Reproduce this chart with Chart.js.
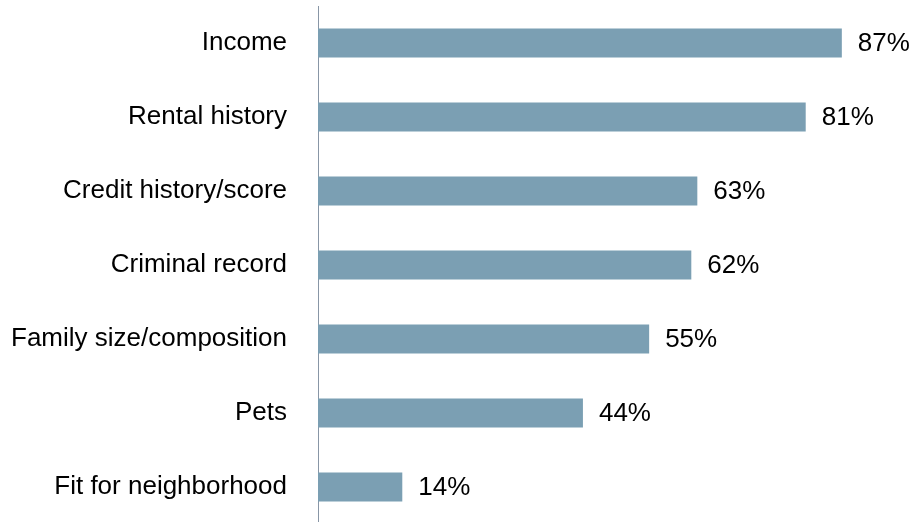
<!DOCTYPE html>
<html>
<head>
<meta charset="utf-8">
<script src="https://cdn.jsdelivr.net/npm/chart.js@4/dist/chart.umd.min.js"></script>
<style>
  html, body { margin: 0; padding: 0; background: #fff; overflow: hidden; }
  canvas { display: block; }
</style>
</head>
<body>
<canvas id="c" width="912" height="524"></canvas>
<script>
const categories = [
  'Income',
  'Rental history',
  'Credit history/score',
  'Criminal record',
  'Family size/composition',
  'Pets',
  'Fit for neighborhood'
];
const shares = [87, 81, 63, 62, 55, 44, 14];

const FONT = "'Liberation Sans', Arial, sans-serif";

// Writes each bar's percentage just past its end
const valueLabels = {
  id: 'valueLabels',
  afterDatasetsDraw(chart) {
    const ctx = chart.ctx;
    const meta = chart.getDatasetMeta(0);
    ctx.save();
    ctx.font = '26px ' + FONT;
    ctx.fillStyle = '#000';
    ctx.textAlign = 'left';
    ctx.textBaseline = 'middle';
    meta.data.forEach((bar, i) => {
      ctx.fillText(shares[i] + '%', bar.x + 16, bar.y + 1);
    });
    ctx.restore();
  }
};

new Chart(document.getElementById('c'), {
  type: 'bar',
  data: {
    labels: categories,
    datasets: [{
      data: shares,
      backgroundColor: '#7b9fb3',
      borderWidth: 0,
      categoryPercentage: 1,
      barPercentage: 0.39
    }]
  },
  options: {
    indexAxis: 'y',
    responsive: false,
    animation: false,
    layout: { padding: { top: 6, right: 22, bottom: 0, left: 0 } },
    plugins: {
      legend: { display: false },
      tooltip: { enabled: false }
    },
    scales: {
      x: {
        display: false,
        min: 0,
        max: 95
      },
      y: {
        afterFit(scale) {
          scale.width = 318;
          scale.paddingTop = 0;
          scale.paddingBottom = 0;
        },
        grid: { display: false, drawTicks: false },
        border: { display: true, color: '#8896a6', width: 1 },
        ticks: {
          color: '#000',
          padding: 31,
          font: { family: FONT, size: 26 }
        }
      }
    }
  },
  plugins: [valueLabels]
});
</script>
</body>
</html>
